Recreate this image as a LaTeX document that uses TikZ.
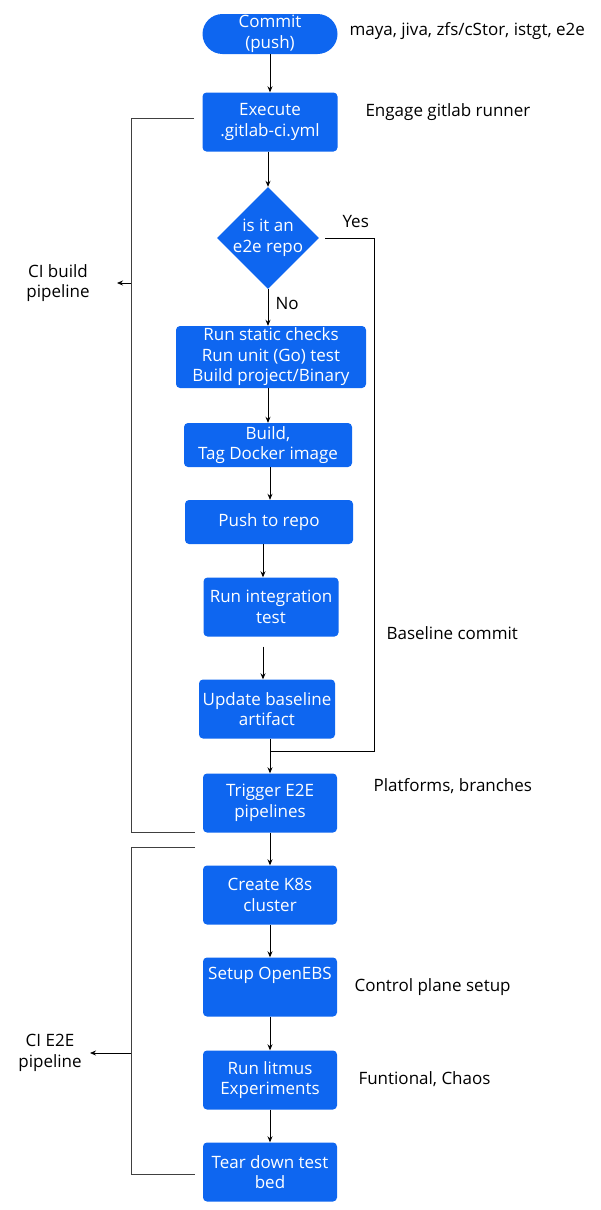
\documentclass[tikz,border=0pt]{standalone}
\usepackage{fontspec}
\setmainfont{Open Sans}
\usetikzlibrary{shapes.geometric,arrows.meta}
\definecolor{flowblue}{RGB}{14,102,240}

\begin{document}
\begin{tikzpicture}[x=1pt,y=-1pt,
  font=\fontsize{17}{20.5}\selectfont,
  box/.style={fill=flowblue,text=white,rounded corners=4pt,align=center,
    minimum width=135pt,minimum height=59pt,inner sep=0pt},
  pill/.style={box,rounded corners=20pt,minimum height=40pt},
  decide/.style={diamond,fill=flowblue,text=white,align=center,inner sep=-10pt,
    minimum size=102pt},
  note/.style={anchor=west,align=left},
  side/.style={align=center},
  flow/.style={-{Stealth[length=6pt,width=5pt]},thick},
  brace/.style={black!75,thick}]
  \useasboundingbox (0,0) rectangle (600,1210);
  % main column
  \node[pill] (commit) at (270,34) {Commit\\(push)};
  \node[box] (exec) at (270,122) {Execute\\.gitlab-ci.yml};
  \node[decide] (repo) at (268,238) {is it an\\e2e repo};
  \node[box,minimum width=190pt,minimum height=62pt] (checks) at (271,357)
    {Run static checks\\Run unit (Go) test\\Build project/Binary};
  \node[box,minimum width=168pt,minimum height=44pt] (docker) at (268,445)
    {Build,\\Tag Docker image};
  \node[box,minimum width=168pt,minimum height=44pt] (push) at (269,522) {Push to repo};
  \node[box] (integ) at (271,607) {Run integration\\test};
  \node[box,minimum width=136pt] (baseline) at (267,709) {Update baseline\\artifact};
  \node[box,minimum width=134pt] (trigger) at (270,803) {Trigger E2E\\pipelines};
  \node[box,minimum width=134pt] (k8s) at (270,895) {Create K8s\\cluster};
  \node[box,minimum width=134pt] (openebs) at (270,987) {Setup OpenEBS\\[6pt]};
  \node[box,minimum width=134pt] (litmus) at (270,1080) {Run litmus\\Experiments};
  \node[box,minimum width=134pt] (teardown) at (270,1172) {Tear down test\\bed};
  % notes on the right
  \node[note] (repos) at (346,31) {maya, jiva, zfs/cStor, istgt, e2e};
  \node[note] (runner) at (362,112) {Engage gitlab runner};
  \node[note] (yes) at (339,222) {Yes};
  \node[note] (no) at (272,304) {No};
  \node[note] (bcommit) at (383,633) {Baseline commit};
  \node[note] (platforms) at (370,786) {Platforms, branches};
  \node[note] (control) at (351,987) {Control plane setup};
  \node[note] (chaos) at (355,1079) {Funtional, Chaos};
  % pipeline labels on the left
  \node[side] (buildlbl) at (58,283) {CI build\\pipeline};
  \node[side] (e2elbl) at (50,1053) {CI E2E\\pipeline};
  % arrows
  \coordinate (lane) at (263,0);
  \draw[flow] (commit) -- (commit |- exec.north);
  \draw[flow] (repo |- exec.south) -- (repo);
  \draw[flow] (repo) -- (repo |- checks.north);
  \draw[flow] (repo |- checks.south) -- (repo |- docker.north);
  \draw[flow] (commit |- docker.south) -- (commit |- push.north);
  \draw[flow] (lane |- push.south) -- (lane |- integ.north);
  \draw[flow] ([yshift=-10pt]lane |- integ.south) -- (lane |- baseline.north);
  \draw[flow] (commit |- baseline.south) -- (commit |- trigger.north);
  \draw[flow] (trigger) -- (k8s);
  \draw[flow] (k8s) -- (openebs);
  \draw[flow] (openebs) -- (litmus);
  \draw[flow] (litmus) -- (teardown);
  % yes branch
  \coordinate (merge) at (270,751);
  \draw[thick,shorten <=6pt] (repo.east) -- (374,238) |- (merge);
  % brackets
  \coordinate (b1top) at (194,118);
  \coordinate (b1bot) at (195,832);
  \coordinate (b1mid) at (131,283);
  \coordinate (b1tip) at (117,283);
  \draw[brace] (b1top) -| (131,832) -- (b1bot);
  \draw[flow] (b1mid) -- (b1tip);
  \coordinate (b2top) at (195,847);
  \coordinate (b2bot) at (195,1174);
  \coordinate (b2mid) at (131,1053);
  \coordinate (b2tip) at (90,1053);
  \draw[brace] (b2top) -| (131,1174) -- (b2bot);
  \draw[flow] (b2mid) -- (b2tip);
\end{tikzpicture}
\end{document}
